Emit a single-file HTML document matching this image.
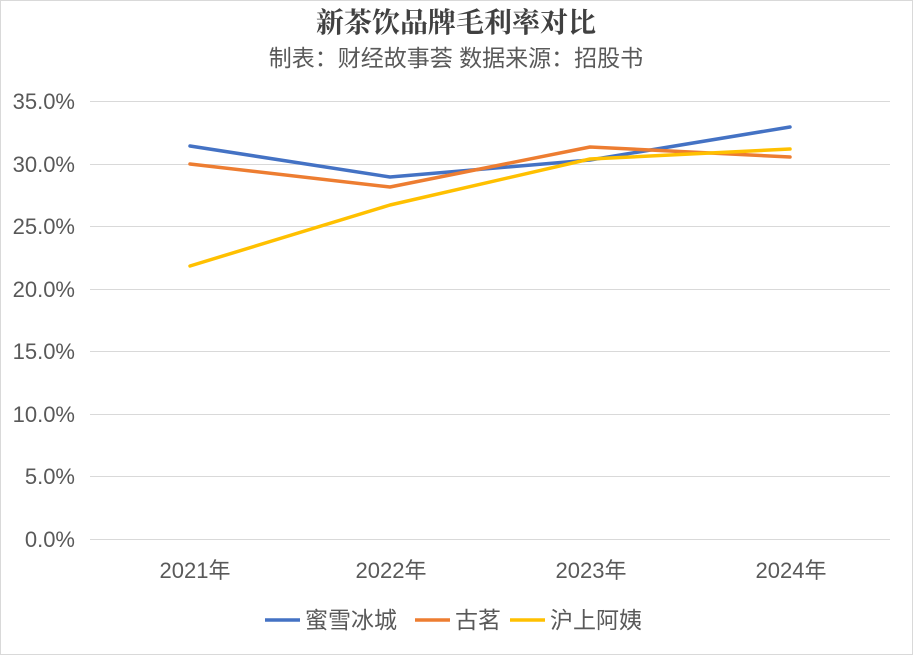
<!DOCTYPE html>
<html><head><meta charset="utf-8"><style>
body{margin:0;background:#fff;}
svg{display:block;}
</style></head><body>
<svg width="913" height="655" xmlns="http://www.w3.org/2000/svg">
<rect x="0.5" y="0.5" width="912" height="654" fill="#fff" stroke="#d9d9d9"/>
<text x="456" y="32" text-anchor="middle" font-family="'Noto Serif CJK SC',serif" font-weight="bold" font-size="28" fill="#404040">新茶饮品牌毛利率对比</text>
<text x="456" y="66" text-anchor="middle" font-family="'Liberation Sans','Noto Sans CJK SC',sans-serif" font-size="23" fill="#595959">制表：财经故事荟 数据来源：招股书</text>
<g stroke="#d9d9d9" stroke-width="1">
<line x1="90" x2="890" y1="101.5" y2="101.5"/>
<line x1="90" x2="890" y1="164.5" y2="164.5"/>
<line x1="90" x2="890" y1="226.5" y2="226.5"/>
<line x1="90" x2="890" y1="289.5" y2="289.5"/>
<line x1="90" x2="890" y1="351.5" y2="351.5"/>
<line x1="90" x2="890" y1="414.5" y2="414.5"/>
<line x1="90" x2="890" y1="476.5" y2="476.5"/>
<line x1="90" x2="890" y1="539.5" y2="539.5"/>
</g>
<g font-family="'Liberation Sans',sans-serif" font-size="22" fill="#595959" text-anchor="end">
<text x="75" y="109">35.0%</text>
<text x="75" y="172">30.0%</text>
<text x="75" y="234">25.0%</text>
<text x="75" y="297">20.0%</text>
<text x="75" y="359">15.0%</text>
<text x="75" y="422">10.0%</text>
<text x="75" y="484">5.0%</text>
<text x="75" y="547">0.0%</text>
</g>
<g font-family="'Liberation Sans','Noto Sans CJK SC',sans-serif" font-size="22" fill="#595959" text-anchor="middle">
<text x="195" y="578">2021年</text>
<text x="391" y="578">2022年</text>
<text x="591" y="578">2023年</text>
<text x="791" y="578">2024年</text>
</g>
<g fill="none" stroke-width="3.5" stroke-linejoin="round" stroke-linecap="round">
<polyline stroke="#4472c4" points="190,146 390,177 590,160 790,127"/>
<polyline stroke="#ed7d31" points="190,164 390,187 590,147 790,157"/>
<polyline stroke="#ffc000" points="190,266 390,205 590,159 790,149"/>
</g>
<g stroke-width="3.5">
<line x1="265" x2="300" y1="620" y2="620" stroke="#4472c4"/>
<line x1="415" x2="450" y1="620" y2="620" stroke="#ed7d31"/>
<line x1="510" x2="545" y1="620" y2="620" stroke="#ffc000"/>
</g>
<g font-family="'Liberation Sans','Noto Sans CJK SC',sans-serif" font-size="23" fill="#595959">
<text x="305" y="628">蜜雪冰城</text>
<text x="455" y="628">古茗</text>
<text x="550" y="628">沪上阿姨</text>
</g>
</svg>
</body></html>
